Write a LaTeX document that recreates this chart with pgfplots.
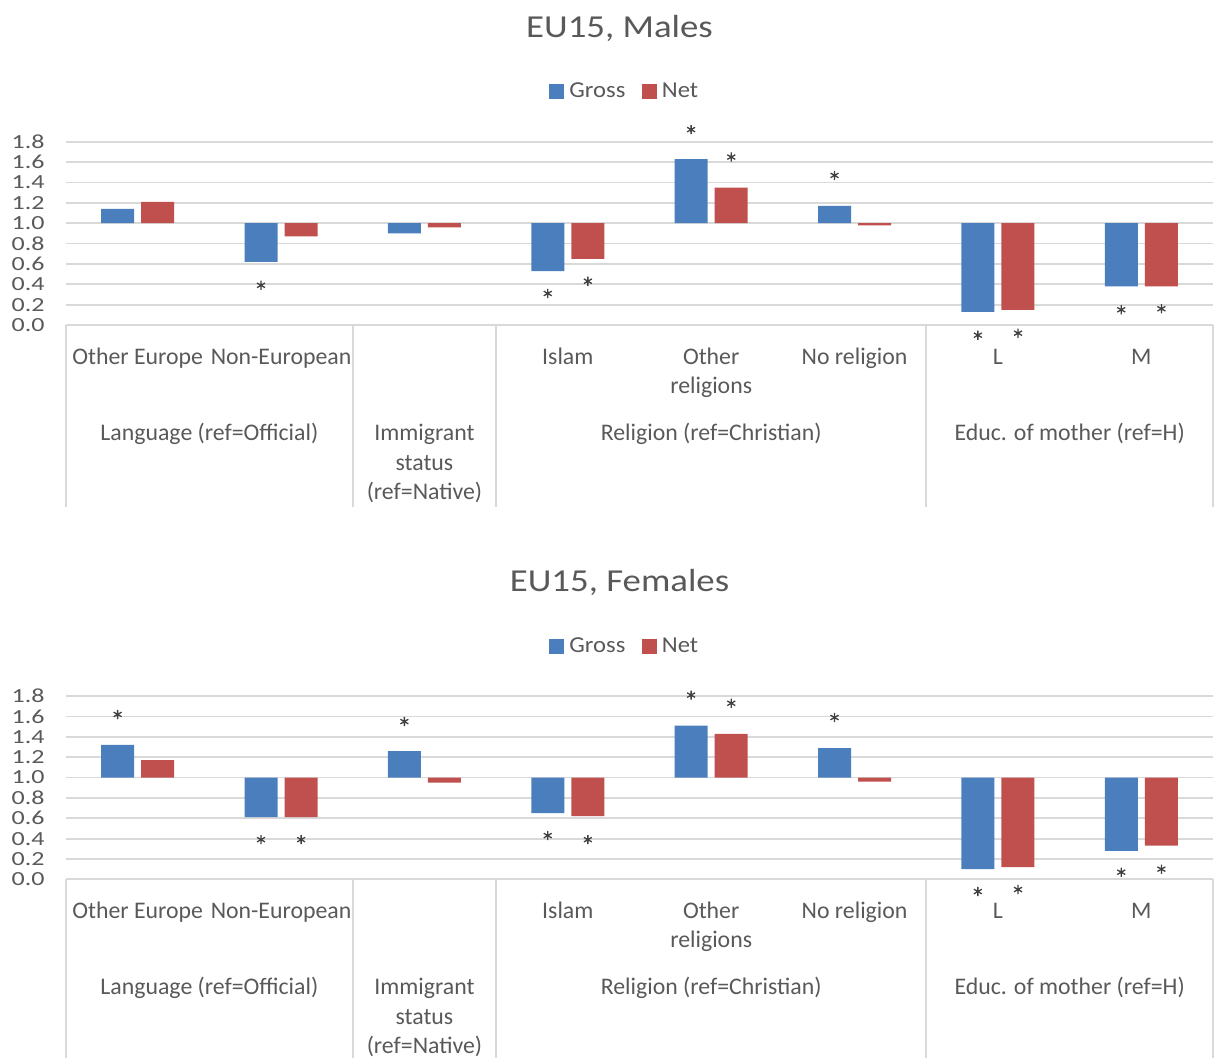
\documentclass[border=0pt]{standalone}
\usepackage{pgfplots}
\pgfplotsset{compat=1.18}
\usepackage{fontspec}
\setmainfont{Carlito}
\newfontfamily\titlefont{Carlito}[FakeStretch=1.15]
\newfontfamily\tickfont{Carlito}[FakeStretch=1.3]
\newfontfamily\legfont{Carlito}[FakeStretch=1.08]
\definecolor{txt}{HTML}{595959}
\definecolor{gridc}{HTML}{D9D9D9}
\definecolor{gross}{RGB}{74,126,189}
\definecolor{net}{RGB}{192,80,77}
\definecolor{starc}{HTML}{404040}
\pgfplotsset{
  panel/.style={
    scale only axis, width=573.5pt, height=91.6pt,
    xmin=-0.5, xmax=7.5, ymin=-1, ymax=0.8,
    y filter/.expression={y-1},
    clip=false,
    axis line style={draw=none},
    major tick length=0pt,
    xtick=\empty,
    ytick={-1,-0.8,-0.6,-0.4,-0.2,0,0.2,0.4,0.6,0.8},
    yticklabels={0.0,0.2,0.4,0.6,0.8,1.0,1.2,1.4,1.6,1.8},
    yticklabel style={font=\tickfont\fontsize{10}{12}\selectfont, text=txt, anchor=east, inner sep=0pt, xshift=-10.5pt},
    ymajorgrids, grid style={gridc, line width=0.9pt},
    legend columns=2,
    legend style={draw=none, fill=none, at={(0.4885,1.272)}, anchor=center,
      font=\legfont\fontsize{11.4}{13}\selectfont, text=txt, inner sep=0pt,
      nodes={inner sep=2.5pt},
      /tikz/every even column/.append style={column sep=5.75pt}},
  },
  grossbar/.style={ybar, bar width=16.5pt, bar shift=-10pt, fill=gross, draw=none,
    legend image code/.code={\fill[gross] (0pt,-3.75pt) rectangle (7.5pt,3.75pt);}},
  netbar/.style={ybar, bar width=16.5pt, bar shift=10pt, fill=net, draw=none,
    legend image code/.code={\fill[net] (0pt,-3.75pt) rectangle (7.5pt,3.75pt);}},
  stars/.style={only marks, mark=asterisk, mark size=2.3pt, color=starc, mark options={line width=0.65pt}},
}
\tikzset{
  lab/.style={anchor=base, font=\fontsize{11.9}{13}\selectfont, text=txt, inner sep=0pt},
  sep/.style={gridc, line width=0.9pt},
  ttl/.style={anchor=base, font=\titlefont\fontsize{16}{19}\selectfont, text=txt, inner sep=0pt},
}
\newcommand{\catlabels}{%
  \node[lab] at ([yshift=-19.5pt]rel axis cs:0.0625,0) {Other Europe};
  \node[lab] at ([yshift=-19.5pt]rel axis cs:0.1875,0) {Non-European};
  \node[lab] at ([yshift=-19.5pt]rel axis cs:0.4375,0) {Islam};
  \node[lab] at ([yshift=-19.5pt]rel axis cs:0.5625,0) {Other};
  \node[lab] at ([yshift=-34.25pt]rel axis cs:0.5625,0) {religions};
  \node[lab] at ([yshift=-19.5pt]rel axis cs:0.6875,0) {No religion};
  \node[lab] at ([yshift=-19.5pt]rel axis cs:0.8125,0) {L};
  \node[lab] at ([yshift=-19.5pt]rel axis cs:0.9375,0) {M};
  \node[lab] at ([yshift=-57.75pt]rel axis cs:0.125,0) {Language (ref=Official)};
  \node[lab] at ([yshift=-57.75pt]rel axis cs:0.3125,0) {Immigrant};
  \node[lab] at ([yshift=-72.5pt]rel axis cs:0.3125,0) {status};
  \node[lab] at ([yshift=-87.25pt]rel axis cs:0.3125,0) {(ref=Native)};
  \node[lab] at ([yshift=-57.75pt]rel axis cs:0.5625,0) {Religion (ref=Christian)};
  \node[lab] at ([yshift=-57.75pt]rel axis cs:0.875,0) {Educ. of mother (ref=H)};
  \draw[sep] (rel axis cs:0,0) -- ([yshift=-91pt]rel axis cs:0,0);
  \draw[sep] (rel axis cs:0.25,0) -- ([yshift=-91pt]rel axis cs:0.25,0);
  \draw[sep] (rel axis cs:0.375,0) -- ([yshift=-91pt]rel axis cs:0.375,0);
  \draw[sep] (rel axis cs:0.75,0) -- ([yshift=-91pt]rel axis cs:0.75,0);
  \draw[sep] (rel axis cs:1,0) -- ([yshift=-91pt]rel axis cs:1,0);
}
\begin{document}
\begin{tikzpicture}
\path[use as bounding box] (0,0) rectangle (609pt,-528.5pt);
\node[ttl] at (309.75pt,-18.5pt) {EU15, Males};
\node[ttl] at (309.75pt,-295.6pt) {EU15, Females};

% Males
\begin{axis}[panel, at={(33pt,-162.5pt)}, anchor=south west]
\addplot[grossbar] coordinates {(0,1.14) (1,0.62) (2,0.90) (3,0.53) (4,1.63) (5,1.17) (6,0.13) (7,0.38)};
\addlegendentry{Gross}
\addplot[netbar] coordinates {(0,1.21) (1,0.87) (2,0.96) (3,0.65) (4,1.35) (5,0.98) (6,0.15) (7,0.38)};
\addlegendentry{Net}
\addplot[stars, forget plot] coordinates {(0.86,0.39) (2.86,0.31) (3.86,1.92) (4.86,1.47) (5.86,-0.10) (6.86,0.15)};
\addplot[stars, forget plot] coordinates {(3.14,0.43) (4.14,1.65) (6.14,-0.08) (7.14,0.16)};
\catlabels
\end{axis}

% Females
\begin{axis}[panel, at={(33pt,-439.65pt)}, anchor=south west]
\addplot[grossbar] coordinates {(0,1.32) (1,0.61) (2,1.26) (3,0.65) (4,1.51) (5,1.29) (6,0.10) (7,0.28)};
\addlegendentry{Gross}
\addplot[netbar] coordinates {(0,1.17) (1,0.61) (2,0.95) (3,0.62) (4,1.43) (5,0.96) (6,0.12) (7,0.33)};
\addlegendentry{Net}
\addplot[stars, forget plot] coordinates {(-0.14,1.62) (0.86,0.39) (1.86,1.55) (2.86,0.43) (3.86,1.81) (4.86,1.59) (5.86,-0.12) (6.86,0.07)};
\addplot[stars, forget plot] coordinates {(1.14,0.39) (3.14,0.39) (4.14,1.73) (6.14,-0.10) (7.14,0.10)};
\catlabels
\end{axis}
\end{tikzpicture}
\end{document}
